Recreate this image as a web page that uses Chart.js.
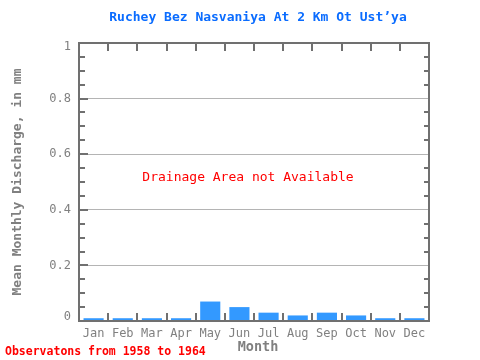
<!DOCTYPE html>
<html>
<head>
<meta charset="utf-8">
<script src="https://cdn.jsdelivr.net/npm/chart.js@4/dist/chart.umd.min.js"></script>
<style>
html,body{margin:0;padding:0;background:#fff;}
#wrap{width:480px;height:360px;position:relative;}
</style>
</head>
<body>
<div id="wrap"><canvas id="c" width="480" height="360"></canvas></div>
<script>
const months = ['Jan','Feb','Mar','Apr','May','Jun','Jul','Aug','Sep','Oct','Nov','Dec'];
const discharge = [0.01,0.01,0.01,0.01,0.07,0.05,0.03,0.02,0.03,0.02,0.01,0.01];
const yTicks = [0,0.2,0.4,0.6,0.8,1];
const yTickLabels = ['0','0.2','0.4','0.6','0.8','1'];
const titleText = 'Ruchey Bez Nasvaniya At 2 Km Ot Ust\u2019ya';
const noteText = 'Drainage Area not Available';
const obsText = 'Observatons from 1958 to 1964';
const xTitle = 'Month';
const yTitle = 'Mean Monthly Discharge, in mm';

const MONO = '"DejaVu Sans Mono", "Liberation Mono", monospace';
const FRAME = '#707070';
const TEXTGREY = '#808080';

const framePlugin = {
  id: 'frame',
  afterDraw(chart) {
    const ctx = chart.ctx;
    const a = chart.chartArea;
    const xs = chart.scales.x, ys = chart.scales.y;
    ctx.save();
    ctx.strokeStyle = FRAME;
    ctx.lineWidth = 2;
    for (let v = 0; v <= 1.0001; v += 0.05) {
      const y = Math.round(ys.getPixelForValue(v));
      const major = Math.abs(v * 5 - Math.round(v * 5)) < 1e-6;
      const len = major ? 9 : 6;
      ctx.beginPath();
      ctx.moveTo(a.left, y); ctx.lineTo(a.left + len, y);
      ctx.moveTo(a.right, y); ctx.lineTo(a.right - (major ? 0 : 5), y);
      ctx.stroke();
    }
    for (let i = 1; i < months.length; i++) {
      const x = Math.round((xs.getPixelForValue(i - 1) + xs.getPixelForValue(i)) / 2);
      ctx.beginPath();
      ctx.moveTo(x, a.top); ctx.lineTo(x, a.top + 8);
      ctx.moveTo(x, a.bottom); ctx.lineTo(x, a.bottom - 8);
      ctx.stroke();
    }
    ctx.strokeRect(a.left, a.top, a.right - a.left, a.bottom - a.top);

    // y tick labels (end ones kept inside the frame height)
    ctx.fillStyle = TEXTGREY;
    ctx.font = '12px ' + MONO;
    ctx.textAlign = 'right';
    ctx.textBaseline = 'middle';
    yTicks.forEach((v, i) => {
      let y = ys.getPixelForValue(v);
      y = Math.min(Math.max(y, a.top + 4), a.bottom - 4);
      ctx.fillText(yTickLabels[i], a.left - 8, y);
    });

    ctx.textAlign = 'center';
    ctx.fillStyle = '#0a6cff';
    ctx.font = 'bold 13px ' + MONO;
    ctx.fillText(titleText, 258, 18);

    ctx.fillStyle = '#ff0000';
    ctx.font = '13px ' + MONO;
    ctx.fillText(noteText, 248, 178);

    ctx.textAlign = 'left';
    ctx.font = 'bold 11.5px ' + MONO;
    ctx.fillText(obsText, 5, 352);

    ctx.textAlign = 'center';
    ctx.fillStyle = TEXTGREY;
    ctx.font = 'bold 13.5px ' + MONO;
    ctx.fillText(xTitle, 258, 347);

    ctx.save();
    ctx.translate(18, 182);
    ctx.rotate(-Math.PI / 2);
    ctx.font = 'bold 13px ' + MONO;
    ctx.fillText(yTitle, 0, 0);
    ctx.restore();

    ctx.restore();
  }
};

new Chart(document.getElementById('c'), {
  type: 'bar',
  data: {
    labels: months,
    datasets: [{
      data: discharge,
      backgroundColor: '#3399ff',
      borderWidth: 0,
      categoryPercentage: 1,
      barPercentage: 0.69
    }]
  },
  options: {
    responsive: false,
    animation: false,
    devicePixelRatio: 1,
    layout: { padding: { top: 43, right: 51, left: 0, bottom: 0 } },
    plugins: { legend: { display: false }, tooltip: { enabled: false }, title: { display: false } },
    scales: {
      x: {
        offset: true,
        grid: { display: false, drawTicks: false },
        border: { display: false },
        ticks: { color: TEXTGREY, font: { family: MONO, size: 12 }, padding: 6, maxRotation: 0, autoSkip: false },
        afterFit(s) { s.height = 39; }
      },
      y: {
        min: 0, max: 1,
        afterBuildTicks(s) { s.ticks = yTicks.map(v => ({ value: v })); },
        grid: { color: '#b4b4b4', lineWidth: 1, drawTicks: false },
        border: { display: false },
        ticks: { display: false },
        afterFit(s) { s.width = 79; }
      }
    }
  },
  plugins: [framePlugin]
});
</script>
</body>
</html>
